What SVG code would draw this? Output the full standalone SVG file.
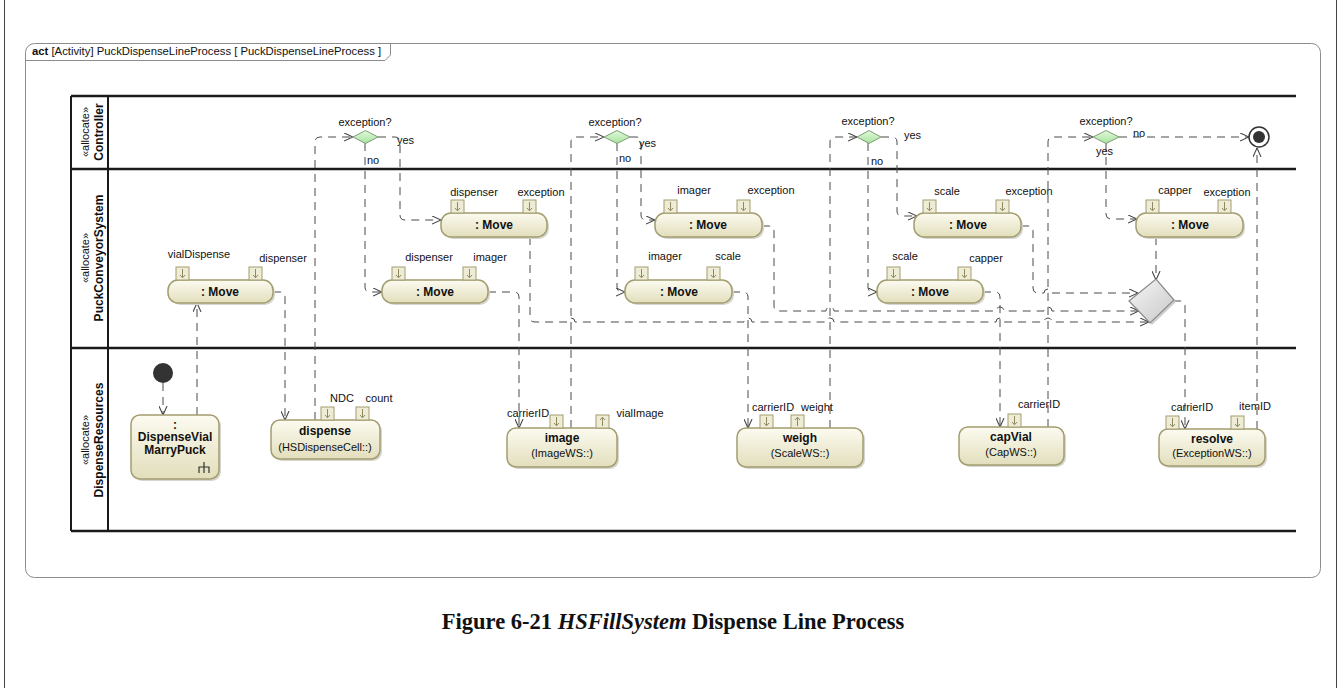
<svg xmlns="http://www.w3.org/2000/svg" xmlns:xlink="http://www.w3.org/1999/xlink" width="1340" height="688" viewBox="0 0 1340 688">
<style>
text{font-family:"Liberation Sans",Arial,sans-serif;font-size:11px;fill:#111}
.b{font-weight:bold}
.c{text-anchor:middle}
.hdr{font-size:11.3px}
.nm{font-weight:bold;font-size:12px;text-anchor:middle}
.lane{stroke:#1a1a1a;stroke-width:2.5;fill:none}
.lv{stroke:#1a1a1a;stroke-width:2;fill:none}
.act{fill:url(#ga);stroke:#a39d70;stroke-width:1.5}
.sh{fill:#d6d6d0}
.flow{fill:none;stroke:#4a4a4a;stroke-width:1;stroke-dasharray:8 6;marker-end:url(#arr)}
.dec{fill:url(#gd);stroke:#7f9c78;stroke-width:1}
.cap{font-family:"Liberation Serif","Times New Roman",serif;font-size:22.5px;font-weight:bold;text-anchor:middle}
</style>
<defs>
<linearGradient id="ga" x1="0" y1="0" x2="0" y2="1"><stop offset="0" stop-color="#fcfbf0"/><stop offset="1" stop-color="#e2debc"/></linearGradient>
<linearGradient id="gd" x1="0" y1="0" x2="0" y2="1"><stop offset="0" stop-color="#e2fadc"/><stop offset="1" stop-color="#a6e29c"/></linearGradient>
<linearGradient id="gm" x1="0" y1="0" x2="1" y2="1"><stop offset="0" stop-color="#f6f6f6"/><stop offset="1" stop-color="#c8c8c8"/></linearGradient>
<marker id="arr" viewBox="0 0 10 10" refX="10" refY="5" markerWidth="9" markerHeight="9" markerUnits="userSpaceOnUse" orient="auto"><path d="M0,0.5 L10,5 L0,9.5" fill="none" stroke="#444" stroke-width="1.2"/></marker>
<g id="pinIn"><rect x="0" y="0" width="13" height="13" fill="#efecd6" stroke="#a39d70" stroke-width="1"/><path d="M6.5,2 V10.5 M4,8 L6.5,10.8 L9,8" fill="none" stroke="#8f8960" stroke-width="1"/></g>
<g id="pinOut"><rect x="0" y="0" width="13" height="13" fill="#efecd6" stroke="#a39d70" stroke-width="1"/><path d="M6.5,11 V2.5 M4,5 L6.5,2.2 L9,5" fill="none" stroke="#8f8960" stroke-width="1"/></g>
</defs>
<rect x="0" y="0" width="1340" height="688" fill="#fff"/>
<g id="page-border" stroke="#444" stroke-width="1"><line x1="4.5" y1="0" x2="4.5" y2="688"/><line x1="1336.5" y1="0" x2="1336.5" y2="688"/></g>

<g id="frame">
<rect x="25.5" y="43.5" width="1295" height="534" rx="9" fill="#fff" stroke="#8c8c8c" stroke-width="1"/>
<path d="M25.5,60.5 H385 L390.5,55 V43.5" fill="none" stroke="#8c8c8c" stroke-width="1"/>
<text class="hdr" x="32" y="55"><tspan class="b">act</tspan> [Activity] PuckDispenseLineProcess [ PuckDispenseLineProcess ]</text>
</g>

<g id="lanes">
<line class="lane" x1="71" y1="96" x2="1296" y2="96"/>
<line class="lane" x1="71" y1="169" x2="1296" y2="169"/>
<line class="lane" x1="71" y1="348" x2="1296" y2="348"/>
<line class="lane" x1="71" y1="531" x2="1296" y2="531"/>
<line class="lv" x1="71" y1="96" x2="71" y2="531"/>
<line class="lv" x1="108" y1="96" x2="108" y2="531"/>
<g id="lane-controller"><text class="c" transform="rotate(-90 89 132)" x="89" y="132">«allocate»</text><text class="nm" transform="rotate(-90 103 132)" x="103" y="132">Controller</text></g>
<g id="lane-puck"><text class="c" transform="rotate(-90 89 258)" x="89" y="258">«allocate»</text><text class="nm" transform="rotate(-90 103 258)" x="103" y="258">PuckConveyorSystem</text></g>
<g id="lane-dispense"><text class="c" transform="rotate(-90 89 440)" x="89" y="440">«allocate»</text><text class="nm" transform="rotate(-90 103 440)" x="103" y="440">DispenseResources</text></g>
</g>

<g id="connectors">
<path class="flow" d="M163,383 V415"/>
<path class="flow" d="M197,415 V303"/>
<path class="flow" d="M273,292 H280 Q285,292 285,297 V420"/>
<path class="flow" d="M315,420 V142 Q315,137 320,137 H353"/>
<path class="flow" d="M365,143 V287 Q365,292 370,292 H382"/>
<path class="flow" d="M378,137 H395 Q400,137 400,142 V215 Q400,220 405,220 H441"/>
<path class="flow" d="M488,292 H514 Q519,292 519,297 V428"/>
<path class="flow" d="M530,237 V317 Q530,322 535,322 H567 a4,4 0 0 1 8,0 H744 a4,4 0 0 1 8,0 H826 a4,4 0 0 1 8,0 H996 a4,4 0 0 1 8,0 H1044 a4,4 0 0 1 8,0 H1149"/>
<path class="flow" d="M571,428 V142 Q571,137 576,137 H604"/>
<path class="flow" d="M617,143 V287 Q617,292 622,292 H625"/>
<path class="flow" d="M630,137 H636 Q641,137 641,142 V215 Q641,220 646,220 H655"/>
<path class="flow" d="M762,226 H769 Q774,226 774,231 V306 Q774,311 779,311 H826 a4,4 0 0 1 8,0 H996 a4,4 0 0 1 8,0 H1044 a4,4 0 0 1 8,0 H1139"/>
<path class="flow" d="M732,292 H743 Q748,292 748,297 V428"/>
<path class="flow" d="M830,428 V142 Q830,137 835,137 H857"/>
<path class="flow" d="M868,143 V287 Q868,292 873,292 H877"/>
<path class="flow" d="M881,137 H892 Q897,137 897,142 V211 Q897,216 902,216 H917"/>
<path class="flow" d="M983,292 H995 Q1000,292 1000,297 V427"/>
<path class="flow" d="M1021,226 H1028 Q1033,226 1033,231 V288 Q1033,293 1038,293 H1044 a4,4 0 0 1 8,0 H1138"/>
<path class="flow" d="M1048,427 V142 Q1048,137 1053,137 H1093"/>
<path class="flow" d="M1106,143 V214 Q1106,219 1111,219 H1137"/>
<path class="flow" d="M1119,137 H1249"/>
<path class="flow" d="M1156,237 V280"/>
<path class="flow" d="M1173,301 H1180 Q1185,301 1185,306 V429"/>
<path class="flow" d="M1257,429 V148"/>
</g>

<g id="initial"><circle cx="163" cy="373" r="10" fill="#333"/></g>
<g id="final"><circle cx="1259" cy="137" r="10" fill="#fff" stroke="#333" stroke-width="1.5"/><circle cx="1259" cy="137" r="6" fill="#333"/></g>

<g id="dec1"><polygon class="dec" points="353,137 365.5,130.5 378,137 365.5,143.5"/><text class="c" x="365" y="126">exception?</text><text x="397" y="144">yes</text><text x="367" y="164">no</text></g>
<g id="dec2"><polygon class="dec" points="604,137 617,130.5 630,137 617,143.5"/><text class="c" x="615" y="126">exception?</text><text x="639" y="147">yes</text><text x="619" y="162">no</text></g>
<g id="dec3"><polygon class="dec" points="857,137 869,130.5 881,137 869,143.5"/><text class="c" x="868" y="125">exception?</text><text x="904" y="139">yes</text><text x="871" y="165">no</text></g>
<g id="dec4"><polygon class="dec" points="1093,137 1106,130.5 1119,137 1106,143.5"/><text class="c" x="1106" y="125">exception?</text><text x="1133" y="137">no</text><text x="1096" y="155">yes</text></g>

<g id="merge"><polygon points="1131,303 1158,281 1176,302 1152,325" fill="#cfcfcf"/><polygon points="1129,301 1156,279 1174,300 1150,323" fill="url(#gm)" stroke="#8a8a8a" stroke-width="1.2"/></g>

<g id="moveA"><rect class="sh" x="170" y="282" width="105" height="23" rx="10"/><rect class="act" x="168" y="280" width="105" height="23" rx="10"/><text class="nm" x="220" y="296">: Move</text><use xlink:href="#pinIn" x="176" y="267"/><use xlink:href="#pinIn" x="249" y="267"/><text class="c" x="199" y="258">vialDispense</text><text class="c" x="283" y="262">dispenser</text></g>
<g id="moveB"><rect class="sh" x="443" y="215" width="106" height="24" rx="10"/><rect class="act" x="441" y="213" width="106" height="24" rx="10"/><text class="nm" x="494" y="229">: Move</text><use xlink:href="#pinIn" x="451" y="200"/><use xlink:href="#pinIn" x="523" y="200"/><text class="c" x="474" y="196">dispenser</text><text class="c" x="541" y="196">exception</text></g>
<g id="moveC"><rect class="sh" x="384" y="282" width="106" height="23" rx="10"/><rect class="act" x="382" y="280" width="106" height="23" rx="10"/><text class="nm" x="435" y="296">: Move</text><use xlink:href="#pinIn" x="392" y="267"/><use xlink:href="#pinIn" x="463" y="267"/><text class="c" x="429" y="261">dispenser</text><text class="c" x="490" y="261">imager</text></g>
<g id="moveD"><rect class="sh" x="657" y="215" width="107" height="24" rx="10"/><rect class="act" x="655" y="213" width="107" height="24" rx="10"/><text class="nm" x="708" y="229">: Move</text><use xlink:href="#pinIn" x="664" y="200"/><use xlink:href="#pinIn" x="737" y="200"/><text class="c" x="694" y="194">imager</text><text class="c" x="771" y="194">exception</text></g>
<g id="moveE"><rect class="sh" x="627" y="282" width="107" height="23" rx="10"/><rect class="act" x="625" y="280" width="107" height="23" rx="10"/><text class="nm" x="679" y="296">: Move</text><use xlink:href="#pinIn" x="635" y="267"/><use xlink:href="#pinIn" x="707" y="267"/><text class="c" x="665" y="260">imager</text><text class="c" x="728" y="260">scale</text></g>
<g id="moveF"><rect class="sh" x="916" y="215" width="107" height="24" rx="10"/><rect class="act" x="914" y="213" width="107" height="24" rx="10"/><text class="nm" x="968" y="229">: Move</text><use xlink:href="#pinIn" x="923" y="200"/><use xlink:href="#pinIn" x="996" y="200"/><text class="c" x="947" y="195">scale</text><text class="c" x="1029" y="195">exception</text></g>
<g id="moveG"><rect class="sh" x="879" y="282" width="106" height="23" rx="10"/><rect class="act" x="877" y="280" width="106" height="23" rx="10"/><text class="nm" x="930" y="296">: Move</text><use xlink:href="#pinIn" x="887" y="267"/><use xlink:href="#pinIn" x="958" y="267"/><text class="c" x="905" y="260">scale</text><text class="c" x="986" y="262">capper</text></g>
<g id="moveH"><rect class="sh" x="1138" y="215" width="107" height="24" rx="10"/><rect class="act" x="1136" y="213" width="107" height="24" rx="10"/><text class="nm" x="1190" y="229">: Move</text><use xlink:href="#pinIn" x="1146" y="200"/><use xlink:href="#pinIn" x="1218" y="200"/><text class="c" x="1175" y="194">capper</text><text class="c" x="1227" y="196">exception</text></g>

<g id="dispenseVialMarryPuck"><rect class="sh" x="133" y="417" width="88" height="64" rx="9"/><rect class="act" x="131" y="415" width="88" height="64" rx="9"/><text class="nm" x="175" y="429">:</text><text class="nm" x="175" y="441">DispenseVial</text><text class="nm" x="175" y="454">MarryPuck</text><path d="M204,462 V473 M199,473 V467 H209 V473" fill="none" stroke="#333" stroke-width="1.2"/></g>
<g id="dispense"><rect class="sh" x="273" y="422" width="109" height="39" rx="9"/><rect class="act" x="271" y="420" width="109" height="39" rx="9"/><text class="nm" x="325" y="435">dispense</text><text class="c" x="325" y="451">(HSDispenseCell::)</text><use xlink:href="#pinIn" x="321" y="407"/><use xlink:href="#pinIn" x="356" y="407"/><text class="c" x="342" y="402">NDC</text><text class="c" x="379" y="402">count</text></g>
<g id="image"><rect class="sh" x="509" y="430" width="110" height="39" rx="9"/><rect class="act" x="507" y="428" width="110" height="39" rx="9"/><text class="nm" x="562" y="442">image</text><text class="c" x="562" y="457">(ImageWS::)</text><use xlink:href="#pinIn" x="550" y="415"/><use xlink:href="#pinOut" x="596" y="415"/><text class="c" x="528" y="417">carrierID</text><text class="c" x="640" y="417">vialImage</text></g>
<g id="weigh"><rect class="sh" x="739" y="430" width="126" height="39" rx="9"/><rect class="act" x="737" y="428" width="126" height="39" rx="9"/><text class="nm" x="800" y="442">weigh</text><text class="c" x="800" y="457">(ScaleWS::)</text><use xlink:href="#pinIn" x="760" y="415"/><use xlink:href="#pinOut" x="791" y="415"/><text class="c" x="773" y="411">carrierID</text><text class="c" x="817" y="411">weight</text></g>
<g id="capVial"><rect class="sh" x="961" y="429" width="105" height="38" rx="9"/><rect class="act" x="959" y="427" width="105" height="38" rx="9"/><text class="nm" x="1011" y="441">capVial</text><text class="c" x="1011" y="456">(CapWS::)</text><use xlink:href="#pinIn" x="1008" y="414"/><text class="c" x="1039" y="408">carrierID</text></g>
<g id="resolve"><rect class="sh" x="1161" y="431" width="106" height="37" rx="9"/><rect class="act" x="1159" y="429" width="106" height="37" rx="9"/><text class="nm" x="1212" y="443">resolve</text><text class="c" x="1212" y="457">(ExceptionWS::)</text><use xlink:href="#pinIn" x="1166" y="416"/><use xlink:href="#pinIn" x="1231" y="416"/><text class="c" x="1192" y="411">carrierID</text><text class="c" x="1255" y="410">itemID</text></g>

<text id="caption" class="cap" x="673" y="629">Figure 6-21 <tspan font-style="italic">HSFillSystem</tspan> Dispense Line Process</text>
</svg>
